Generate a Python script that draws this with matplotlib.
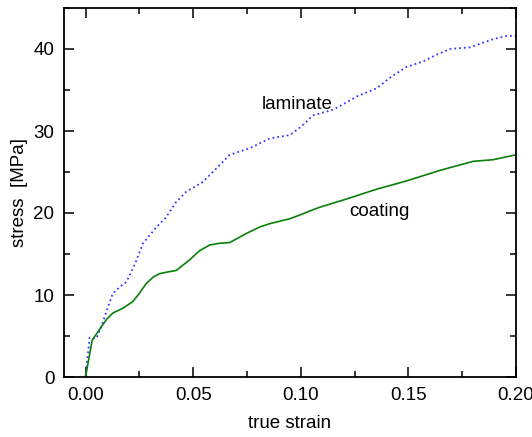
import matplotlib
matplotlib.use("Agg")
import matplotlib.pyplot as plt
from matplotlib.ticker import MultipleLocator

plt.rcParams["font.family"] = ["Liberation Sans", "DejaVu Sans"]

# laminate (blue dotted)
lam_strain = [0.0, 0.0019, 0.005, 0.0073, 0.0105, 0.0127, 0.016, 0.019, 0.023,
              0.0267, 0.033, 0.0372, 0.042, 0.0468, 0.0546, 0.061, 0.067,
              0.0763, 0.081, 0.0856, 0.0949, 0.1, 0.1057, 0.115, 0.12, 0.1259,
              0.1352, 0.142, 0.149, 0.157, 0.163, 0.1693, 0.1786, 0.1894,
              0.1957, 0.2]
lam_stress = [0.0, 4.8, 4.7, 6.1, 8.6, 10.2, 11.0, 11.6, 13.8,
              16.3, 18.3, 19.4, 21.3, 22.6, 23.8, 25.5, 27.1,
              27.9, 28.5, 29.1, 29.5, 30.5, 31.9, 32.6, 33.3, 34.2,
              35.2, 36.6, 37.8, 38.5, 39.3, 40.0, 40.2, 41.2,
              41.6, 41.6]

# coating (green solid)
coat_strain = [0.0, 0.0031, 0.0073, 0.010, 0.0127, 0.0174, 0.022, 0.025,
               0.0282, 0.0315, 0.0344, 0.038, 0.0422, 0.0484, 0.053, 0.0577,
               0.062, 0.067, 0.0747, 0.081, 0.0856, 0.0949, 0.1, 0.1057,
               0.1088, 0.1212, 0.1352, 0.149, 0.1647, 0.1801, 0.1894, 0.2]
coat_stress = [0.0, 4.5, 6.1, 7.1, 7.8, 8.4, 9.2, 10.2,
               11.4, 12.2, 12.6, 12.8, 13.0, 14.3, 15.4, 16.1,
               16.3, 16.4, 17.5, 18.3, 18.7, 19.3, 19.8, 20.4,
               20.7, 21.7, 22.9, 23.9, 25.2, 26.3, 26.5, 27.1]

fig = plt.figure(figsize=(5.32, 4.37), dpi=100)
ax = fig.add_axes([64 / 532, 1 - 377 / 437, (516 - 64) / 532, (377 - 8) / 437])

ax.plot(lam_strain, lam_stress, color="#3838ff", linestyle=":", linewidth=1.3)
ax.plot(coat_strain, coat_stress, color="#0a800a", linestyle="-", linewidth=1.2)

ax.text(0.0985, 33.2, "laminate", fontsize=13.5, ha="center", va="center")
ax.text(0.1365, 20.2, "coating", fontsize=13.5, ha="center", va="center")

ax.set_xlim(-0.01, 0.2)
ax.set_ylim(0, 45)
ax.xaxis.set_major_locator(MultipleLocator(0.05))
ax.xaxis.set_minor_locator(MultipleLocator(0.025))
ax.yaxis.set_major_locator(MultipleLocator(10))
ax.yaxis.set_minor_locator(MultipleLocator(5))
ax.xaxis.set_major_formatter(plt.FuncFormatter(lambda v, p: f"{v:.2f}"))

ax.tick_params(which="both", direction="in", top=True, right=True,
               labelsize=13.5, width=1.1)
ax.tick_params(which="major", length=7, pad=7)
ax.tick_params(which="minor", length=4)
for s in ax.spines.values():
    s.set_linewidth(1.3)

ax.set_xlabel("true strain", fontsize=13.5, labelpad=8)
ax.set_ylabel("stress  [MPa]", fontsize=13.5, labelpad=4)

fig.savefig("out.png", dpi=100)
